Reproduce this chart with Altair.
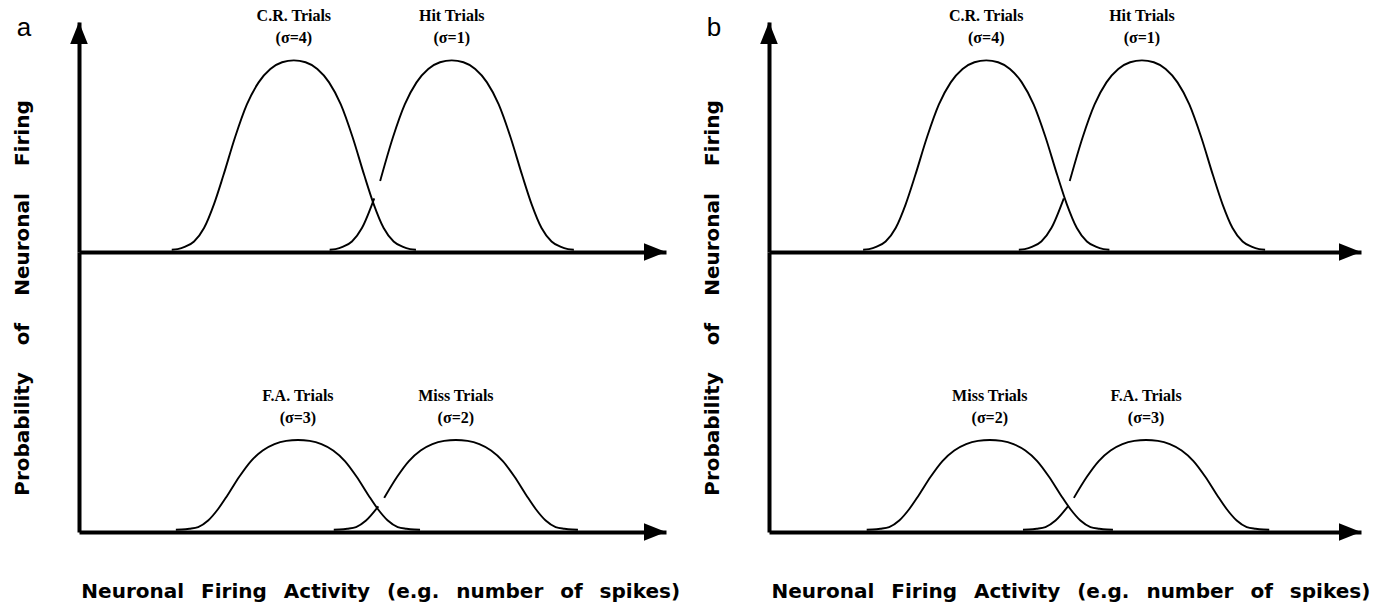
import altair as alt
import pandas as pd

# ---------------- values ----------------
# x: neuronal firing activity (arbitrary units, each axis runs 0-100)
# y: probability of neuronal firing (arbitrary units, upper-row peaks = 1)

# Panel a, upper row
a_cr_x = [15.8, 16.8, 18.1, 19.6, 21.3, 23.0, 24.6, 26.6, 28.6, 30.6, 32.6, 34.6, 36.6,
          38.6, 40.6, 42.6, 44.6, 46.6, 48.6, 50.2, 51.9, 53.6, 55.1, 56.4, 57.4]
a_cr_y = [0.012, 0.015, 0.028, 0.055, 0.125, 0.25, 0.4, 0.6, 0.77, 0.885, 0.955, 0.99, 1.0,
          0.99, 0.955, 0.885, 0.77, 0.6, 0.4, 0.25, 0.125, 0.055, 0.028, 0.015, 0.012]
a_hit_x1 = [42.7, 43.7, 45.0, 46.5, 48.2, 50.3]
a_hit_y1 = [0.012, 0.015, 0.028, 0.055, 0.125, 0.28]
a_hit_x2 = [51.3, 53.5, 55.5, 57.5, 59.5, 61.5, 63.5, 65.5, 67.5, 69.5, 71.5, 73.5, 75.5,
            77.1, 78.8, 80.5, 82.0, 83.3, 84.3]
a_hit_y2 = [0.37, 0.6, 0.77, 0.885, 0.955, 0.99, 1.0, 0.99, 0.955, 0.885, 0.77, 0.6, 0.4,
            0.25, 0.125, 0.055, 0.028, 0.015, 0.012]

# Panel a, lower row
a_fa_x = [16.5, 17.5, 18.8, 20.3, 22.0, 23.7, 25.3, 27.3, 29.3, 31.3, 33.3, 35.3, 37.3,
          39.3, 41.3, 43.3, 45.3, 47.3, 49.3, 50.9, 52.6, 54.3, 55.8, 57.1, 58.1]
a_fa_y = [0.012, 0.013, 0.017, 0.026, 0.06, 0.12, 0.192, 0.288, 0.37, 0.425, 0.458, 0.475, 0.48,
          0.475, 0.458, 0.425, 0.37, 0.288, 0.192, 0.12, 0.06, 0.026, 0.017, 0.013, 0.012]
a_miss_x1 = [43.4, 44.4, 45.7, 47.2, 48.9, 51.0]
a_miss_y1 = [0.012, 0.013, 0.017, 0.026, 0.06, 0.134]
a_miss_x2 = [52.0, 54.2, 56.2, 58.2, 60.2, 62.2, 64.2, 66.2, 68.2, 70.2, 72.2, 74.2, 76.2,
             77.8, 79.5, 81.2, 82.7, 84.0, 85.0]
a_miss_y2 = [0.178, 0.288, 0.37, 0.425, 0.458, 0.475, 0.48, 0.475, 0.458, 0.425, 0.37, 0.288, 0.192,
             0.12, 0.06, 0.026, 0.017, 0.013, 0.012]

# Panel b, upper row
b_cr_x = [15.9, 16.9, 18.2, 19.7, 21.4, 23.1, 24.7, 26.7, 28.7, 30.7, 32.7, 34.7, 36.7,
          38.7, 40.7, 42.7, 44.7, 46.7, 48.7, 50.3, 52.0, 53.7, 55.2, 56.5, 57.5]
b_cr_y = [0.012, 0.015, 0.028, 0.055, 0.125, 0.25, 0.4, 0.6, 0.77, 0.885, 0.955, 0.99, 1.0,
          0.99, 0.955, 0.885, 0.77, 0.6, 0.4, 0.25, 0.125, 0.055, 0.028, 0.015, 0.012]
b_hit_x1 = [42.2, 43.2, 44.5, 46.0, 47.7, 49.8]
b_hit_y1 = [0.012, 0.015, 0.028, 0.055, 0.125, 0.28]
b_hit_x2 = [50.8, 53.0, 55.0, 57.0, 59.0, 61.0, 63.0, 65.0, 67.0, 69.0, 71.0, 73.0, 75.0,
            76.6, 78.3, 80.0, 81.5, 82.8, 83.8]
b_hit_y2 = [0.37, 0.6, 0.77, 0.885, 0.955, 0.99, 1.0, 0.99, 0.955, 0.885, 0.77, 0.6, 0.4,
            0.25, 0.125, 0.055, 0.028, 0.015, 0.012]

# Panel b, lower row
b_miss_x = [16.5, 17.5, 18.8, 20.3, 22.0, 23.7, 25.3, 27.3, 29.3, 31.3, 33.3, 35.3, 37.3,
            39.3, 41.3, 43.3, 45.3, 47.3, 49.3, 50.9, 52.6, 54.3, 55.8, 57.1, 58.1]
b_miss_y = [0.012, 0.013, 0.017, 0.026, 0.06, 0.12, 0.192, 0.288, 0.37, 0.425, 0.458, 0.475, 0.48,
            0.475, 0.458, 0.425, 0.37, 0.288, 0.192, 0.12, 0.06, 0.026, 0.017, 0.013, 0.012]
b_fa_x1 = [42.9, 43.9, 45.2, 46.7, 48.4, 50.5]
b_fa_y1 = [0.012, 0.013, 0.017, 0.026, 0.06, 0.134]
b_fa_x2 = [51.5, 53.7, 55.7, 57.7, 59.7, 61.7, 63.7, 65.7, 67.7, 69.7, 71.7, 73.7, 75.7,
           77.3, 79.0, 80.7, 82.2, 83.5, 84.5]
b_fa_y2 = [0.178, 0.288, 0.37, 0.425, 0.458, 0.475, 0.48, 0.475, 0.458, 0.425, 0.37, 0.288, 0.192,
           0.12, 0.06, 0.026, 0.017, 0.013, 0.012]

# Curve labels
a_upper_names = ["C.R. Trials", "Hit Trials"]
a_upper_sigmas = ["(σ=4)", "(σ=1)"]
a_upper_peak_x = [36.6, 63.5]
a_upper_peak_y = [1.0, 1.0]
a_lower_names = ["F.A. Trials", "Miss Trials"]
a_lower_sigmas = ["(σ=3)", "(σ=2)"]
a_lower_peak_x = [37.3, 64.2]
a_lower_peak_y = [0.48, 0.48]
b_upper_names = ["C.R. Trials", "Hit Trials"]
b_upper_sigmas = ["(σ=4)", "(σ=1)"]
b_upper_peak_x = [36.7, 63.0]
b_upper_peak_y = [1.0, 1.0]
b_lower_names = ["Miss Trials", "F.A. Trials"]
b_lower_sigmas = ["(σ=2)", "(σ=3)"]
b_lower_peak_x = [37.3, 63.7]
b_lower_peak_y = [0.48, 0.48]

panel_letters = ["a", "b"]
y_title = "Probability\u2003 of\u2003 Neuronal\u2003 Firing"
x_title = "Neuronal \u2002Firing \u2002Activity \u2002(e.g. \u2002number \u2002of \u2002spikes)"
x_title_center = [51.4, 51.0]

# ---------------- styling ----------------
X_DOMAIN = [0, 100]
TOP_YMAX = 1.2
BOT_YMAX = 1.46
TOP_H = 230
BOT_H = 280
WIDTHS = [587, 592]
SERIF = "Liberation Serif"
SANS = "DejaVu Sans"
ARROW_RIGHT = "M-2,-0.8L0,0L-2,0.8Z"
ARROW_UP = "M-0.8,2L0,0L0.8,2Z"


def curves_frame(segments):
    rows = []
    for name, xs, ys in segments:
        for x, y in zip(xs, ys):
            rows.append({"seg": name, "x": x, "y": y})
    return pd.DataFrame(rows)


def row_chart(curves, names, sigmas, px, py, width, height, ymax,
              letter=None, ytitle=None, xtitle=None, xtitle_x=None, up_arrow=False):
    axis = alt.Axis(title=None, labels=False, ticks=False, grid=False, domain=True,
                    domainColor="black", domainWidth=4, domainCap="butt")
    X = alt.X("x:Q", scale=alt.Scale(domain=X_DOMAIN, nice=False, zero=False), axis=axis)
    Y = alt.Y("y:Q", scale=alt.Scale(domain=[0, ymax], nice=False, zero=True), axis=axis)

    lines = alt.Chart(curves).mark_line(
        color="black", strokeWidth=1.9, interpolate="monotone"
    ).encode(x=X, y=Y, detail="seg:N")

    lab = pd.DataFrame({"x": px, "y": py, "name": names, "sigma": sigmas})
    name_txt = alt.Chart(lab).mark_text(
        font=SERIF, fontSize=16, fontWeight="bold", dy=-44, baseline="middle", align="center"
    ).encode(x=X, y=Y, text="name:N")
    sig_txt = alt.Chart(lab).mark_text(
        font=SERIF, fontSize=16, fontWeight="bold", dy=-22, baseline="middle", align="center"
    ).encode(x=X, y=Y, text="sigma:N")

    layers = [lines, name_txt, sig_txt]

    xarrow = alt.Chart(pd.DataFrame({"x": [X_DOMAIN[1]], "y": [0]})).mark_point(
        shape=ARROW_RIGHT, size=484, filled=True, color="black", opacity=1, strokeWidth=0
    ).encode(x=X, y=Y)
    layers.append(xarrow)

    if up_arrow:
        yarrow = alt.Chart(pd.DataFrame({"x": [X_DOMAIN[0]], "y": [ymax]})).mark_point(
            shape=ARROW_UP, size=484, filled=True, color="black", opacity=1, strokeWidth=0
        ).encode(x=X, y=Y)
        layers.append(yarrow)

    if letter is not None:
        lt = alt.Chart(pd.DataFrame({"x": [X_DOMAIN[0]], "y": [ymax], "t": [letter]})).mark_text(
            font="Liberation Sans", fontSize=26, dx=-55, dy=6, baseline="middle", align="center"
        ).encode(x=X, y=Y, text="t:N")
        layers.append(lt)

    if ytitle is not None:
        yt = alt.Chart(pd.DataFrame({"x": [X_DOMAIN[0]], "y": [ymax], "t": [ytitle]})).mark_text(
            font=SANS, fontSize=20, fontWeight="bold", angle=270, dx=-46, dy=-56,
            baseline="middle", align="center"
        ).encode(x=X, y=Y, text="t:N")
        layers.append(yt)

    if xtitle is not None:
        xt = alt.Chart(pd.DataFrame({"x": [xtitle_x], "y": [0], "t": [xtitle]})).mark_text(
            font=SANS, fontSize=20, fontWeight="bold", dy=60, baseline="middle", align="center"
        ).encode(x=X, y=Y, text="t:N")
        layers.append(xt)

    return alt.layer(*layers).properties(width=width, height=height)


a_top = row_chart(
    curves_frame([("cr", a_cr_x, a_cr_y), ("hit1", a_hit_x1, a_hit_y1), ("hit2", a_hit_x2, a_hit_y2)]),
    a_upper_names, a_upper_sigmas, a_upper_peak_x, a_upper_peak_y,
    WIDTHS[0], TOP_H, TOP_YMAX, letter=panel_letters[0], up_arrow=True)
a_bot = row_chart(
    curves_frame([("fa", a_fa_x, a_fa_y), ("miss1", a_miss_x1, a_miss_y1), ("miss2", a_miss_x2, a_miss_y2)]),
    a_lower_names, a_lower_sigmas, a_lower_peak_x, a_lower_peak_y,
    WIDTHS[0], BOT_H, BOT_YMAX, ytitle=y_title, xtitle=x_title, xtitle_x=x_title_center[0])
b_top = row_chart(
    curves_frame([("cr", b_cr_x, b_cr_y), ("hit1", b_hit_x1, b_hit_y1), ("hit2", b_hit_x2, b_hit_y2)]),
    b_upper_names, b_upper_sigmas, b_upper_peak_x, b_upper_peak_y,
    WIDTHS[1], TOP_H, TOP_YMAX, letter=panel_letters[1], up_arrow=True)
b_bot = row_chart(
    curves_frame([("miss", b_miss_x, b_miss_y), ("fa1", b_fa_x1, b_fa_y1), ("fa2", b_fa_x2, b_fa_y2)]),
    b_lower_names, b_lower_sigmas, b_lower_peak_x, b_lower_peak_y,
    WIDTHS[1], BOT_H, BOT_YMAX, ytitle=y_title, xtitle=x_title, xtitle_x=x_title_center[1])

chart = alt.concat(
    a_top, b_top, a_bot, b_bot,
    columns=2, spacing={"row": 0, "column": 103}, bounds="flush"
).properties(
    padding={"left": 12, "top": 8, "right": 0, "bottom": 0},
    background="white",
).configure_view(stroke=None)

chart.save("out.html", embed_options={"renderer": "svg", "actions": False})
